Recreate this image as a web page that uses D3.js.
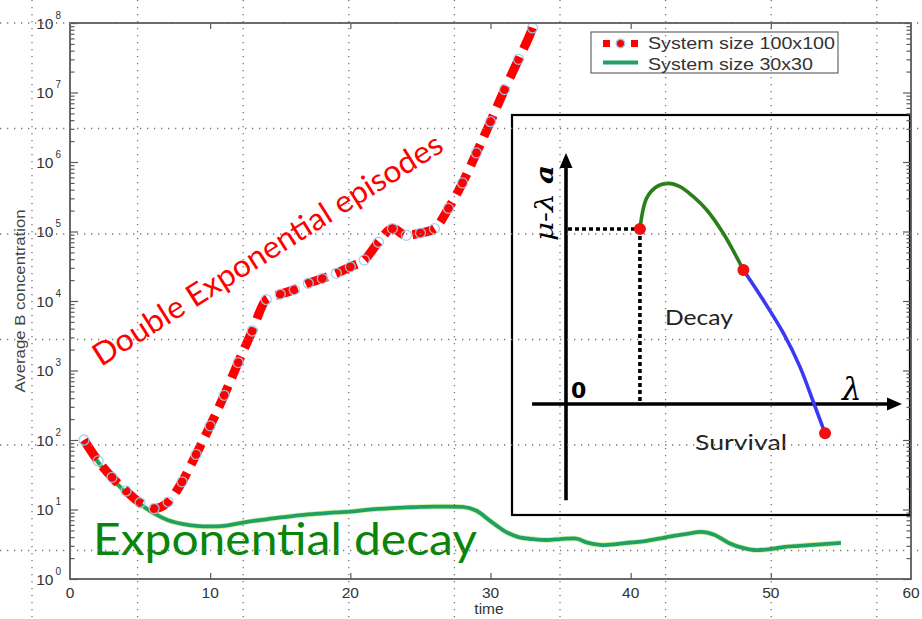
<!DOCTYPE html>
<html><head><meta charset="utf-8">
<script src="https://cdn.jsdelivr.net/npm/d3@7"></script>
<style>body{margin:0;background:#fff}svg{display:block}</style>
</head><body><svg id="c" width="922" height="619"></svg>
<script>
// ---------- data ----------
const times100 = [1,2,3,4,5,6,7,8,9,10,11,12,13,14,15,16,17,18,19,20,21,22,23,24,25,26,27,28,29,30,31,32,33];
const values100 = [100,50,29,18.5,12.5,10.3,12.8,25,62,160,440,1300,3700,10500,12500,14500,18000,21000,25000,31000,39000,70000,110000,88000,95000,110000,215000,500000,1350000,3800000,11000000,30000000,85000000];
const times30 = [1,2,3,4,5,6,7,8,9,10,11,12,13,14,15,16,17,18,19,20,21,22,23,24,25,26,27,28,29,30,31,32,33,34,35,36,37,38,39,40,41,42,43,44,45,46,47,48,49,50,51,52,53,54,55];
const values30 = [100,48,28,17.5,12,8.8,7.0,6.2,5.8,5.7,5.8,6.3,6.8,7.2,7.7,8.1,8.5,8.8,9.1,9.3,9.8,10.2,10.5,10.7,10.9,11,11,10.9,9.6,6.8,4.9,4.0,3.76,3.64,3.76,3.83,3.3,3.08,3.18,3.35,3.5,3.8,4.15,4.45,4.75,4.3,3.3,2.8,2.6,2.7,2.9,3.0,3.1,3.2,3.3];
const xTickValues = [0,10,20,30,40,50,60];
const yDecadeExps = [0,1,2,3,4,5,6,7,8];
const legendLabels = ["System size 100x100","System size 30x30"];
const xLabel = "time";
const yLabel = "Average B concentration";
// inset sketch (lambda, mu - lambda a), arbitrary units
const insetGreenLambda = [0.220,0.240,0.270,0.304,0.339,0.379,0.419,0.468,0.528];
const insetGreenValue  = [0.697,0.820,0.866,0.879,0.866,0.826,0.773,0.680,0.534];
const insetBlueLambda  = [0.528,0.587,0.647,0.696,0.736,0.771];
const insetBlueValue   = [0.534,0.414,0.282,0.149,0.009,-0.117];
const insetDotLambda   = [0.220,0.528,0.771];
const insetDotValue    = [0.697,0.534,-0.117];

// ---------- setup ----------
const svg = d3.select("#c");
const L = 70, R = 911, T = 23, B = 579;
const x = d3.scaleLinear().domain([0,60]).range([L,R]);
const y = d3.scaleLog().domain([1,1e8]).range([B,T]);
const decades = yDecadeExps.map(e => Math.pow(10,e));
const minors = [];
yDecadeExps.slice(0,-1).forEach(e => { for (let k=2;k<10;k++) minors.push(k*Math.pow(10,e)); });

svg.append("rect").attr("width",922).attr("height",619).attr("fill","#fff");
svg.append("defs").append("clipPath").attr("id","plotclip")
  .append("rect").attr("x",L).attr("y",T).attr("width",R-L).attr("height",B-T);

const axisColor = "#5a5a5a";
const labelFont = "'Liberation Sans', Arial, sans-serif";
const calibri = "Lato, 'Open Sans', sans-serif";

// ---------- main series ----------
const plot = svg.append("g").attr("clip-path","url(#plotclip)");
const line = d3.line().x(d => x(d[0])).y(d => y(d[1])).curve(d3.curveMonotoneX);
const d30 = times30.map((t,i) => [t, values30[i]]);
const d100 = times100.map((t,i) => [t, values100[i]]);
// extend last segment to leave the top of the axes
const ext = [33.6, 2e8];

plot.append("path").datum(d30).attr("d", line)
  .attr("fill","none").attr("stroke","#d8f0a0").attr("stroke-width",5.5).attr("stroke-linejoin","round");
plot.append("path").datum(d30).attr("d", line)
  .attr("fill","none").attr("stroke","#1fa065").attr("stroke-width",3.8).attr("stroke-linejoin","round");

plot.append("path").datum(d100.concat([ext])).attr("d", line)
  .attr("fill","none").attr("stroke","#ff0000").attr("stroke-width",9)
  .attr("stroke-dasharray","23,9").attr("stroke-linecap","butt");

plot.selectAll("circle.m").data(d100).enter().append("circle")
  .attr("cx", d => x(d[0])).attr("cy", d => y(d[1])).attr("r",5)
  .attr("fill","none").attr("stroke","#9ccbf2").attr("stroke-width",1.3).attr("stroke-opacity",0.9);

// ---------- annotations ----------
svg.append("text").text("Double Exponential episodes")
  .attr("transform","translate(101,367) rotate(-32.2)")
  .attr("font-family",calibri).attr("font-size",31).attr("fill","#ff0000")
  .attr("textLength",407).attr("lengthAdjust","spacingAndGlyphs");
svg.append("text").text("Exponential decay")
  .attr("x",93).attr("y",555)
  .attr("font-family",calibri).attr("font-size",45).attr("fill","#0a850a")
  .attr("textLength",384).attr("lengthAdjust","spacingAndGlyphs");

// ---------- legend ----------
const lg = svg.append("g");
lg.append("rect").attr("x",591).attr("y",32).attr("width",247).attr("height",41)
  .attr("fill","#fff").attr("stroke","#666").attr("stroke-width",1.2);
lg.append("line").attr("x1",603).attr("x2",638).attr("y1",43.5).attr("y2",43.5)
  .attr("stroke","#ff0000").attr("stroke-width",7).attr("stroke-dasharray","7,7");
lg.append("circle").attr("cx",620.5).attr("cy",43.5).attr("r",4.2)
  .attr("fill","none").attr("stroke","#8cc4f0").attr("stroke-width",1.4);
lg.append("line").attr("x1",603).attr("x2",638).attr("y1",62.5).attr("y2",62.5)
  .attr("stroke","#1fa065").attr("stroke-width",4);
lg.selectAll("text").data(legendLabels).enter().append("text")
  .text(d => d).attr("x",648).attr("y",(d,i) => i ? 70 : 48.5)
  .attr("font-family",labelFont).attr("font-size",17).attr("fill","#333")
  .attr("textLength",(d,i) => i ? 165 : 187).attr("lengthAdjust","spacingAndGlyphs");

// ---------- inset ----------
const ins = svg.append("g");
ins.append("rect").attr("x",512).attr("y",115).attr("width",398).attr("height",400)
  .attr("fill","#fff").attr("stroke","#000").attr("stroke-width",2.2);
const xi = d3.scaleLinear().domain([0,1]).range([566,902]);
const yi = d3.scaleLinear().domain([0,1]).range([404,153]);
// axes
ins.append("line").attr("x1",xi(0)).attr("x2",xi(0)).attr("y1",yi(-0.383)).attr("y2",yi(0.95))
  .attr("stroke","#000").attr("stroke-width",3.6);
ins.append("path").attr("d",`M${xi(0)},${yi(1)} L${xi(0)-6.5},${yi(1)+15} L${xi(0)+6.5},${yi(1)+15}Z`).attr("fill","#000");
ins.append("line").attr("x1",xi(-0.101)).attr("x2",xi(0.97)).attr("y1",yi(0)).attr("y2",yi(0))
  .attr("stroke","#000").attr("stroke-width",3.6);
ins.append("path").attr("d",`M${xi(1)},${yi(0)} L${xi(1)-15},${yi(0)-6.5} L${xi(1)-15},${yi(0)+6.5}Z`).attr("fill","#000");
// dotted guides
ins.append("line").attr("x1",xi(0)+2).attr("x2",xi(insetDotLambda[0])).attr("y1",yi(insetDotValue[0])).attr("y2",yi(insetDotValue[0]))
  .attr("stroke","#000").attr("stroke-width",3.6).attr("stroke-dasharray","4,3");
ins.append("line").attr("x1",xi(insetDotLambda[0])).attr("x2",xi(insetDotLambda[0])).attr("y1",yi(insetDotValue[0])).attr("y2",yi(0)-3)
  .attr("stroke","#000").attr("stroke-width",3.6).attr("stroke-dasharray","4,3");
// curves
const iline = d3.line().x(d => xi(d[0])).y(d => yi(d[1])).curve(d3.curveCatmullRom);
ins.append("path").datum(insetGreenLambda.map((l,i)=>[l,insetGreenValue[i]])).attr("d",iline)
  .attr("fill","none").attr("stroke","#2a8018").attr("stroke-width",3.6);
ins.append("path").datum(insetBlueLambda.map((l,i)=>[l,insetBlueValue[i]])).attr("d",iline)
  .attr("fill","none").attr("stroke","#3a3af5").attr("stroke-width",3.6);
ins.selectAll("circle.dot").data(insetDotLambda.map((l,i)=>[l,insetDotValue[i]])).enter().append("circle")
  .attr("cx",d=>xi(d[0])).attr("cy",d=>yi(d[1])).attr("r",6).attr("fill","#f01010");
// labels
ins.append("text").text("0").attr("x",571).attr("y",398)
  .attr("font-family","'DejaVu Sans', sans-serif").attr("font-weight","bold").attr("font-size",22).attr("fill","#000");
ins.append("text").text("λ").attr("x",842).attr("y",400)
  .attr("font-family","'DejaVu Serif', serif").attr("font-style","italic").attr("font-size",31).attr("fill","#000");
ins.append("text").attr("transform","translate(553,241) rotate(-90)")
  .attr("font-family","'DejaVu Serif', serif").attr("font-style","italic").attr("font-size",25).attr("fill","#000")
  .attr("textLength",76).attr("lengthAdjust","spacingAndGlyphs")
  .call(t => { t.append("tspan").text("μ-λ "); t.append("tspan").attr("font-weight","bold").text("a"); });
ins.append("text").text("Decay").attr("x",665).attr("y",325)
  .attr("font-family",calibri).attr("font-size",22).attr("fill","#222")
  .attr("textLength",68).attr("lengthAdjust","spacingAndGlyphs");
ins.append("text").text("Survival").attr("x",695).attr("y",450)
  .attr("font-family",calibri).attr("font-size",22).attr("fill","#222")
  .attr("textLength",92).attr("lengthAdjust","spacingAndGlyphs");

// ---------- axes / frame ----------
const ax = svg.append("g");
function styleAxis(g){ g.select(".domain").remove(); g.selectAll("line").attr("stroke",axisColor).attr("stroke-width",1.2); g.selectAll("text").remove(); }
ax.append("g").attr("transform",`translate(${L},0)`).call(d3.axisLeft(y).tickValues(decades).tickSize(-8)).call(styleAxis);
ax.append("g").attr("transform",`translate(${L},0)`).call(d3.axisLeft(y).tickValues(minors).tickSize(-4.5)).call(styleAxis);
ax.append("g").attr("transform",`translate(${R},0)`).call(d3.axisRight(y).tickValues(decades).tickSize(-8)).call(styleAxis);
ax.append("g").attr("transform",`translate(${R},0)`).call(d3.axisRight(y).tickValues(minors).tickSize(-4.5)).call(styleAxis);
ax.append("g").attr("transform",`translate(0,${B})`).call(d3.axisBottom(x).tickValues(xTickValues.slice(1,-1)).tickSize(-6)).call(styleAxis);
ax.append("g").attr("transform",`translate(0,${T})`).call(d3.axisTop(x).tickValues(xTickValues.slice(1,-1)).tickSize(-6)).call(styleAxis);
ax.append("rect").attr("x",L).attr("y",T).attr("width",R-L).attr("height",B-T)
  .attr("fill","none").attr("stroke",axisColor).attr("stroke-width",1.8);

// tick labels
ax.selectAll("text.xt").data(xTickValues).enter().append("text")
  .text(d=>d).attr("x",d=>x(d)).attr("y",598).attr("text-anchor","middle")
  .attr("font-family",labelFont).attr("font-size",15.5).attr("fill","#333");
const yl = ax.selectAll("g.yt").data(yDecadeExps).enter().append("g")
  .attr("transform",e=>`translate(0,${y(Math.pow(10,e))})`);
yl.append("text").text("10").attr("x",53.5).attr("y",5.5).attr("text-anchor","end")
  .attr("font-family",labelFont).attr("font-size",15.5).attr("fill","#333");
yl.append("text").text(e=>e).attr("x",55.5).attr("y",-4.5)
  .attr("font-family",labelFont).attr("font-size",10).attr("fill","#333");
ax.append("text").text(xLabel).attr("x",489).attr("y",614).attr("text-anchor","middle")
  .attr("font-family",labelFont).attr("font-size",15.5).attr("fill","#333");
ax.append("text").text(yLabel).attr("transform","translate(25,301) rotate(-90)").attr("text-anchor","middle")
  .attr("font-family",labelFont).attr("font-size",15.5).attr("fill","#444")
  .attr("textLength",183).attr("lengthAdjust","spacingAndGlyphs");

// ---------- background dotted grid (scanned paper) ----------
const grid = svg.append("g").attr("stroke","#777").attr("stroke-width",1.3).attr("stroke-dasharray","1.3,5.7");
const gx = d3.range(32, 922, 105.6), gy = d3.range(23, 619, 105.5);
grid.selectAll("line.v").data(gx).enter().append("line")
  .attr("x1",d=>d).attr("x2",d=>d).attr("y1",0).attr("y2",619);
grid.selectAll("line.h").data(gy).enter().append("line")
  .attr("y1",d=>d).attr("y2",d=>d).attr("x1",0).attr("x2",922);
</script></body></html>
